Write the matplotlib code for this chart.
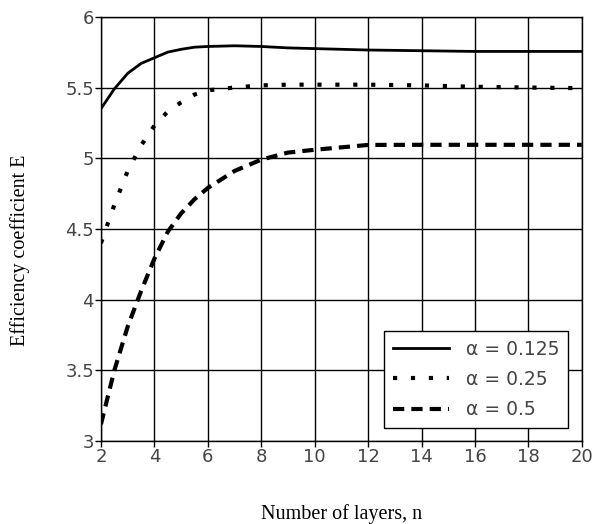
import numpy as np
import matplotlib.pyplot as plt

n = [2, 2.5, 3, 3.5, 4, 4.5, 5, 5.5, 6, 7, 8, 9, 10, 12, 14, 16, 18, 20]
e_0125 = [5.35, 5.49, 5.60, 5.67, 5.71, 5.75, 5.77, 5.785, 5.79, 5.795, 5.79, 5.78,
          5.775, 5.765, 5.76, 5.755, 5.755, 5.755]
e_025 = [4.40, 4.67, 4.91, 5.09, 5.23, 5.33, 5.395, 5.45, 5.48, 5.50, 5.515, 5.52,
         5.52, 5.52, 5.515, 5.505, 5.50, 5.495]
e_05 = [3.12, 3.50, 3.81, 4.06, 4.29, 4.48, 4.61, 4.71, 4.79, 4.91, 4.99, 5.04,
        5.06, 5.094, 5.095, 5.095, 5.095, 5.095]

xticks = [2, 4, 6, 8, 10, 12, 14, 16, 18, 20]
yticks = [3, 3.5, 4, 4.5, 5, 5.5, 6]
ytick_labels = ['3', '3.5', '4', '4.5', '5', '5.5', '6']

fig = plt.figure(figsize=(6.01, 5.24), dpi=100)
ax = fig.add_axes([0.168, 0.158, 0.8, 0.81])

ax.plot(n, e_0125, color='black', lw=2, ls='-', label='α = 0.125')
ax.plot(n, e_025, color='black', lw=3, ls=(0, (1, 3.3)), label='α = 0.25')
ax.plot(n, e_05, color='black', lw=3, ls=(0, (2.7, 1.7)), label='α = 0.5')

ax.set_xlim(2, 20)
ax.set_ylim(3, 6)
ax.set_xticks(xticks)
ax.set_yticks(yticks)
ax.set_yticklabels(ytick_labels)
ax.grid(True, color='black', lw=1)
ax.tick_params(direction='out', length=4, width=1, color='black',
               labelsize=13, pad=1)
for lbl in ax.get_xticklabels() + ax.get_yticklabels():
    lbl.set_family('DejaVu Sans')
    lbl.set_color('#444444')
for s in ax.spines.values():
    s.set_color('black')
    s.set_linewidth(1)

ax.set_xlabel('Number of layers, n', family='Liberation Serif', fontsize=14.5, labelpad=27)
ax.set_ylabel('Efficiency coefficient E', family='Liberation Serif', fontsize=14.5)
ax.yaxis.set_label_coords(-0.148, 0.45)

leg = ax.legend(loc='lower right', bbox_to_anchor=(0.99, 0.01), fancybox=False,
                framealpha=1, edgecolor='black', handlelength=3.0, fontsize=13.5,
                borderpad=0.45, labelspacing=0.6, handletextpad=0.9)
leg.get_frame().set_linewidth(1)
for t in leg.get_texts():
    t.set_color('#444444')
    t.set_family('DejaVu Sans')

fig.savefig('out.png', dpi=100)
